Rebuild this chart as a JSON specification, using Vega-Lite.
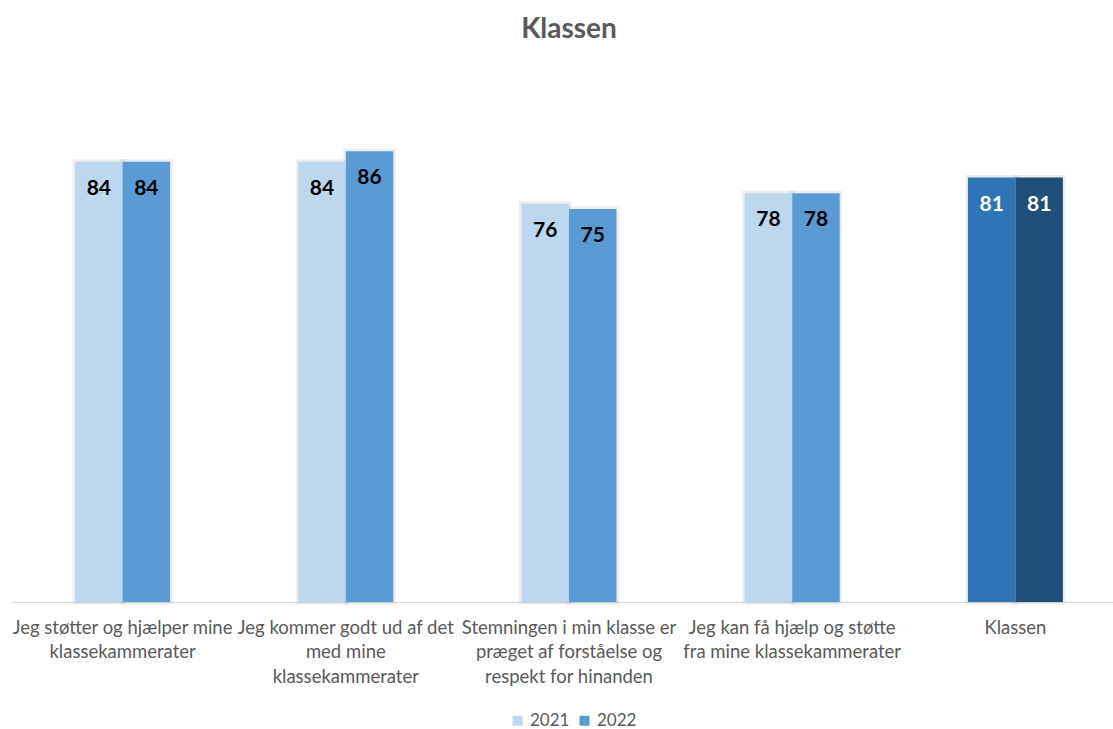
{
  "$schema": "https://vega.github.io/schema/vega-lite/v6.json",
  "autosize": "none",
  "width": 1102,
  "height": 524,
  "padding": {"left": 11, "top": 78, "right": 0, "bottom": 127},
  "background": "white",
  "title": {"text": "Klassen", "fontSize": 28, "font": "Lato", "fontWeight": "bold", "color": "#595959", "offset": 34, "anchor": "middle", "dx": 7},
  "config": {"view": {"stroke": null}},
  "data": {"values": [
    {"category": "Jeg støtter og hjælper mine klassekammerater", "year": "2021", "value": 84},
    {"category": "Jeg støtter og hjælper mine klassekammerater", "year": "2022", "value": 84},
    {"category": "Jeg kommer godt ud af det med mine klassekammerater", "year": "2021", "value": 84},
    {"category": "Jeg kommer godt ud af det med mine klassekammerater", "year": "2022", "value": 86},
    {"category": "Stemningen i min klasse er præget af forståelse og respekt for hinanden", "year": "2021", "value": 76},
    {"category": "Stemningen i min klasse er præget af forståelse og respekt for hinanden", "year": "2022", "value": 75},
    {"category": "Jeg kan få hjælp og støtte fra mine klassekammerater", "year": "2021", "value": 78},
    {"category": "Jeg kan få hjælp og støtte fra mine klassekammerater", "year": "2022", "value": 78},
    {"category": "Klassen", "year": "2021", "value": 81},
    {"category": "Klassen", "year": "2022", "value": 81}
  ]},
  "encoding": {
    "x": {
      "field": "category", "type": "nominal", "sort": null, "title": null,
      "scale": {"range": [0, 1116], "paddingInner": 0.5745, "paddingOuter": 0.2872},
      "axis": {
        "domainColor": "#D9D9D9", "domainWidth": 1, "ticks": false, "labelAngle": 0, "labelLimit": 0,
        "labelOverlap": false, "labelFont": "Lato", "labelFontSize": 18.5, "labelColor": "#595959",
        "labelPadding": 16, "labelLineHeight": 24.5, "grid": false,
        "labelExpr": "datum.value == 'Jeg støtter og hjælper mine klassekammerater' ? ['Jeg støtter og hjælper mine', 'klassekammerater'] : datum.value == 'Jeg kommer godt ud af det med mine klassekammerater' ? ['Jeg kommer godt ud af det', 'med mine', 'klassekammerater'] : datum.value == 'Stemningen i min klasse er præget af forståelse og respekt for hinanden' ? ['Stemningen i min klasse er', 'præget af forståelse og', 'respekt for hinanden'] : datum.value == 'Jeg kan få hjælp og støtte fra mine klassekammerater' ? ['Jeg kan få hjælp og støtte', 'fra mine klassekammerater'] : datum.value"
      }
    },
    "xOffset": {"field": "year", "type": "nominal", "scale": {"domain": ["2021", "2022"], "paddingInner": 0, "paddingOuter": 0}},
    "y": {"field": "value", "type": "quantitative", "scale": {"domain": [0, 100]}, "axis": null}
  },
  "layer": [
    {
      "mark": {"type": "bar", "fill": null, "fillOpacity": 0, "stroke": "#808080", "strokeWidth": 5, "strokeOpacity": 0.14}
    },
    {
      "mark": {"type": "bar"},
      "encoding": {
        "color": {
          "condition": [
            {"test": "datum.category === 'Klassen' && datum.year === '2021'", "value": "#2E75B6"},
            {"test": "datum.category === 'Klassen' && datum.year === '2022'", "value": "#1F4E79"}
          ],
          "field": "year", "type": "nominal",
          "scale": {"domain": ["2021", "2022"], "range": ["#BDD7EE", "#5B9BD5"]},
          "legend": {
            "title": null, "orient": "none", "legendX": 498, "legendY": 634, "direction": "horizontal",
            "symbolType": "square", "symbolSize": 100, "symbolStrokeWidth": 0,
            "labelFont": "Lato", "labelFontSize": 17, "labelColor": "#595959", "labelOffset": 4, "columnPadding": 6
          }
        }
      }
    },
    {
      "mark": {"type": "text", "font": "Lato", "fontWeight": "bold", "fontSize": 21, "baseline": "middle", "dy": 27},
      "encoding": {
        "text": {"field": "value", "type": "quantitative"},
        "color": {"condition": {"test": "datum.category === 'Klassen'", "value": "#FFFFFF"}, "value": "#000000"}
      }
    }
  ]
}
